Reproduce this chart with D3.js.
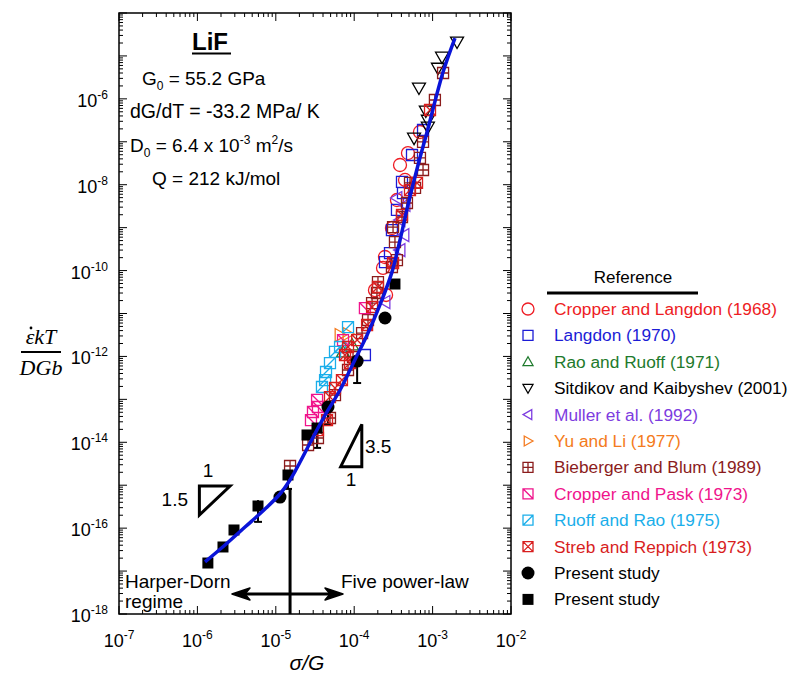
<!DOCTYPE html>
<html>
<head>
<meta charset="utf-8">
<script src="https://cdn.jsdelivr.net/npm/d3@7"></script>
<style>
  body { margin: 0; background: #fff; }
  text { font-family: "Liberation Sans", Arial, sans-serif; }
</style>
</head>
<body>
<svg id="chart" width="791" height="679"></svg>
<script>
// ---- data: [sigma/G, strain-rate term] ----
const fitCurve = [
  [1.25e-6, 1.63e-17], [2.25e-6, 4.05e-17], [4.05e-6, 1.06e-16], [7.28e-6, 2.79e-16],
  [1.13e-5, 6.24e-16], [1.52e-5, 1.32e-15], [2.04e-5, 3.48e-15], [2.73e-5, 9.6e-15],
  [4.25e-5, 4.3e-14], [6.6e-5, 1.65e-13], [1.02e-4, 8.3e-13], [1.46e-4, 3.15e-12],
  [2.13e-4, 1.58e-11], [3.03e-4, 9.2e-11], [3.84e-4, 5.15e-10], [4.85e-4, 3.37e-9],
  [6.52e-4, 2.88e-8], [8.5e-4, 1.69e-7], [1.36e-3, 4.2e-6], [1.93e-3, 2.6e-5]
];

const cropperLangdon = [
  [6.9e-4, 1.69e-7], [4.85e-4, 5.47e-8], [4.45e-4, 1.29e-8], [3.84e-4, 2.88e-8],
  [3.51e-4, 4.4e-9], [3.03e-4, 9.8e-10], [2.47e-4, 2.07e-10], [2.33e-4, 1.15e-10],
  [2.55e-4, 2.7e-11], [1.84e-4, 3.5e-11]
];
const langdon = [
  [7.55e-4, 1.88e-7], [5.46e-4, 4.92e-8], [4.07e-4, 1.16e-8], [4.19e-4, 6.4e-9],
  [3.51e-4, 2.58e-9], [3.03e-4, 8.8e-10], [2.86e-4, 2.56e-10], [2.47e-4, 1.58e-10],
  [1.37e-4, 1.08e-12]
];
const raoRuoff = [[7.2e-5, 1.27e-12], [9.4e-5, 1.85e-12]];
const sitdikov = [
  [2.05e-3, 2.11e-5], [1.32e-3, 9.4e-6], [1.17e-3, 5.2e-6], [6.7e-4, 1.79e-6],
  [8.2e-4, 5.2e-7], [8.7e-4, 3.2e-7], [8.7e-4, 2.2e-7], [5.8e-4, 1.22e-7]
];
const muller = [
  [3.51e-4, 4.9e-9], [4.45e-4, 3.37e-9], [3.84e-4, 1.5e-9], [4.31e-4, 6.7e-10],
  [3.84e-4, 3.0e-10], [2.47e-4, 1.85e-11]
];
const yuLi = [[6.6e-5, 3.15e-12], [8.34e-5, 3.33e-12]];
const bieberger = [
  [1.36e-3, 4.0e-6], [1.07e-3, 9.4e-7], [7.55e-4, 9.9e-8], [6.9e-4, 4.2e-8],
  [7.55e-4, 2.2e-8], [5.97e-4, 8.4e-9], [5.15e-4, 1.1e-8], [4.71e-4, 3.75e-9],
  [4.07e-4, 1.77e-9], [3.13e-4, 1.03e-9], [3.31e-4, 4.6e-10], [3.51e-4, 1.76e-10],
  [3.03e-4, 1.21e-10], [2.01e-4, 5.4e-11], [1.95e-4, 3.0e-11], [1.69e-4, 1.75e-11],
  [1.5e-4, 7.05e-12], [1.26e-4, 3.5e-12], [9.66e-5, 9.7e-13], [8.34e-5, 4.83e-13],
  [5.69e-5, 1.26e-13], [4.91e-5, 3.68e-14], [3.45e-5, 1.26e-14], [2.58e-5, 8.65e-15],
  [1.52e-5, 2.8e-15]
];
const cropperPask = [
  [1.37e-4, 1.34e-11], [7.2e-5, 2.41e-12], [3.36e-5, 9.7e-14], [3.45e-5, 6.64e-14],
  [2.98e-5, 5.07e-14], [2.81e-5, 3.3e-14]
];
const ruoffRao = [
  [8.34e-5, 4.84e-12], [6.6e-5, 1.66e-12], [5.69e-5, 1.27e-12], [4.91e-5, 7.0e-13],
  [4.37e-5, 4.34e-13], [4.25e-5, 2.82e-13], [3.88e-5, 1.94e-13]
];
const strebReppich = [
  [9.27e-4, 5.5e-7], [6.33e-4, 1.1e-8], [5.15e-4, 7.5e-9], [4.07e-4, 1.97e-9],
  [3.13e-4, 1.5e-10], [2.01e-4, 4.14e-11], [1.69e-4, 1.42e-11], [1.46e-4, 5.4e-12],
  [1.09e-4, 2.41e-12], [8.34e-5, 1.66e-12], [7.63e-5, 1.08e-12], [8.83e-5, 7.0e-13],
  [6.98e-5, 2.82e-13], [5.69e-5, 1.84e-13], [4.91e-5, 1.13e-13], [4.5e-5, 3.3e-14],
  [3.45e-5, 1.93e-14]
];
const presentCircles = [[1.13e-5, 5.3e-16], [4.63e-5, 6.64e-14], [1.09e-4, 7.8e-13], [2.47e-4, 7.85e-12]];
const presentSquares = [
  [1.36e-6, 1.54e-17], [2.12e-6, 3.64e-17], [2.93e-6, 9.06e-17], [5.93e-6, 3.28e-16],
  [1.43e-5, 1.73e-15], [2.5e-5, 1.48e-14], [3.36e-5, 2.15e-14], [3.31e-4, 4.86e-11]
];
// error bars: [x, low, high]
const errorBars = [
  [5.93e-6, 1.4e-16, 4.5e-16], [1.43e-5, 8.2e-16, 1.73e-15], [3.36e-5, 7.4e-15, 2.15e-14],
  [4.63e-5, 2.53e-14, 6.64e-14], [1.09e-4, 2.4e-13, 7.8e-13]
];

// annotation geometry (data coordinates)
const slopeLow = [[1.06e-6, 9.6e-16], [2.61e-6, 9.6e-16], [1.06e-6, 2.02e-16]];
const slopeHigh = [[1.25e-4, 2.62e-14], [1.25e-4, 2.7e-15], [6.73e-5, 2.7e-15]];
const boundaryX = 1.52e-5, boundaryTop = 8.2e-16;
const arrowY = 2.92e-18, arrowFrom = 2.76e-6, arrowTo = 7.2e-5;

const xTickExps = [-7, -6, -5, -4, -3, -2];
const yLabelExps = [-6, -8, -10, -12, -14, -16, -18];

const series = [
  { name: "Cropper and Langdon (1968)", color: "#ee1c24", shape: "circle", data: cropperLangdon },
  { name: "Langdon (1970)", color: "#1c1cd6", shape: "square", data: langdon },
  { name: "Rao and Ruoff (1971)", color: "#1e7a2c", shape: "triUp", data: raoRuoff },
  { name: "Sitdikov and Kaibyshev (2001)", color: "#000000", shape: "triDown", data: sitdikov },
  { name: "Muller et al. (1992)", color: "#7d3ce0", shape: "triLeft", data: muller },
  { name: "Yu and Li (1977)", color: "#f47b20", shape: "triRight", data: yuLi },
  { name: "Bieberger and Blum (1989)", color: "#8b1c1c", shape: "boxPlus", data: bieberger },
  { name: "Cropper and Pask (1973)", color: "#f0148c", shape: "boxDiagDown", data: cropperPask },
  { name: "Ruoff and Rao (1975)", color: "#1aaeea", shape: "boxDiagUp", data: ruoffRao },
  { name: "Streb and Reppich (1973)", color: "#d81e1e", shape: "boxX", data: strebReppich },
  { name: "Present study", color: "#000000", shape: "dot", data: presentCircles },
  { name: "Present study", color: "#000000", shape: "block", data: presentSquares }
];

// ---- drawing ----
const svg = d3.select("#chart");
const plotL = 119, plotR = 511, plotT = 13, plotB = 614;

const x = d3.scaleLog().domain([1e-7, 1e-2]).range([plotL, plotR]);
const y = d3.scaleLog().domain([1e-18, 1e-4]).range([plotB, plotT]);

function shapePath(shape, s) {
  const box = `M${-s},${-s}H${s}V${s}H${-s}Z`;
  const t = s * 0.75;
  switch (shape) {
    case "circle":
    case "dot":
      return `M${-s},0a${s},${s} 0 1,0 ${2 * s},0a${s},${s} 0 1,0 ${-2 * s},0Z`;
    case "square":
    case "block": return box;
    case "triUp": return `M0,${-s}L${s},${t}L${-s},${t}Z`;
    case "triDown": return `M0,${s}L${s},${-t}L${-s},${-t}Z`;
    case "triLeft": return `M${-s},0L${t},${-s}L${t},${s}Z`;
    case "triRight": return `M${s},0L${-t},${-s}L${-t},${s}Z`;
    case "boxPlus": return box + `M0,${-s}V${s}M${-s},0H${s}`;
    case "boxDiagDown": return box + `M${-s},${-s}L${s},${s}`;
    case "boxDiagUp": return box + `M${-s},${s}L${s},${-s}`;
    case "boxX": return box + `M${-s},${-s}L${s},${s}M${-s},${s}L${s},${-s}`;
  }
}
const markerSize = shape => ({
  circle: 6.5, dot: 6.5, square: 5.5, block: 5.5
}[shape] || (shape.startsWith("tri") ? 6.5 : 5.5));
const filled = shape => shape === "dot" || shape === "block";

// ticks (inward, all four sides)
const g = svg.append("g");
const xTicks = [], yTicks = [];
for (let e = -7; e < -2; e++) for (let k = 1; k <= 9; k++) xTicks.push({ v: k * Math.pow(10, e), major: k === 1 });
xTicks.push({ v: 1e-2, major: true });
for (let e = -18; e < -4; e++) for (let k = 1; k <= 9; k++) yTicks.push({ v: k * Math.pow(10, e), major: k === 1 });
yTicks.push({ v: 1e-4, major: true });

g.selectAll(".xtick-b").data(xTicks).join("line")
  .attr("x1", d => x(d.v)).attr("x2", d => x(d.v))
  .attr("y1", plotB).attr("y2", d => plotB - (d.major ? 8 : 4))
  .attr("stroke", "#000").attr("stroke-width", 1);
g.selectAll(".xtick-t").data(xTicks).join("line")
  .attr("x1", d => x(d.v)).attr("x2", d => x(d.v))
  .attr("y1", plotT).attr("y2", d => plotT + (d.major ? 8 : 4))
  .attr("stroke", "#000").attr("stroke-width", 1);
g.selectAll(".ytick-l").data(yTicks).join("line")
  .attr("y1", d => y(d.v)).attr("y2", d => y(d.v))
  .attr("x1", plotL).attr("x2", d => plotL + (d.major ? 8 : 4))
  .attr("stroke", "#000").attr("stroke-width", 1);
g.selectAll(".ytick-r").data(yTicks).join("line")
  .attr("y1", d => y(d.v)).attr("y2", d => y(d.v))
  .attr("x1", plotR).attr("x2", d => plotR - (d.major ? 8 : 4))
  .attr("stroke", "#000").attr("stroke-width", 1);

svg.append("rect")
  .attr("x", plotL).attr("y", plotT)
  .attr("width", plotR - plotL).attr("height", plotB - plotT)
  .attr("fill", "none").attr("stroke", "#000").attr("stroke-width", 1.5);

// tick labels
const xl = svg.selectAll(".xlab").data(xTickExps).join("text")
  .attr("x", d => x(Math.pow(10, d))).attr("y", 647)
  .attr("text-anchor", "middle").attr("font-size", 18);
xl.append("tspan").text("10");
xl.append("tspan").attr("dy", -8).attr("font-size", 12).text(d => String(d));

const yl = svg.selectAll(".ylab").data(yLabelExps).join("text")
  .attr("x", 108).attr("y", d => y(Math.pow(10, d)) + 8)
  .attr("text-anchor", "end").attr("font-size", 18);
yl.append("tspan").text("10");
yl.append("tspan").attr("dy", -8).attr("font-size", 12).text(d => String(d));

// axis titles
svg.append("text").attr("x", 307).attr("y", 670).attr("text-anchor", "middle")
  .attr("font-size", 21).attr("font-style", "italic").text("σ/G");
const yt = svg.append("g").attr("font-style", "italic").attr("font-size", 22);
yt.append("text").attr("x", 41).attr("y", 344).attr("text-anchor", "middle")
  .style("font-family", "'Liberation Serif', serif").text("εkT");
yt.append("circle").attr("cx", 31).attr("cy", 328).attr("r", 1.4).attr("fill", "#000");
yt.append("line").attr("x1", 21).attr("x2", 61).attr("y1", 352).attr("y2", 352)
  .attr("stroke", "#000").attr("stroke-width", 2);
yt.append("text").attr("x", 41).attr("y", 375).attr("text-anchor", "middle")
  .style("font-family", "'Liberation Serif', serif").text("DGb");

// error bars
const eb = svg.append("g").attr("stroke", "#000").attr("stroke-width", 2);
eb.selectAll(".eb").data(errorBars).join("line")
  .attr("x1", d => x(d[0])).attr("x2", d => x(d[0]))
  .attr("y1", d => y(d[1])).attr("y2", d => y(d[2]));
eb.selectAll(".cap").data(errorBars).join("line")
  .attr("x1", d => x(d[0]) - 4).attr("x2", d => x(d[0]) + 4)
  .attr("y1", d => y(d[1])).attr("y2", d => y(d[1]));

// markers
series.forEach(s => {
  const sz = markerSize(s.shape);
  svg.append("g").selectAll("path").data(s.data).join("path")
    .attr("transform", d => `translate(${x(d[0])},${y(d[1])})`)
    .attr("d", shapePath(s.shape, sz))
    .attr("fill", filled(s.shape) ? s.color : "none")
    .attr("stroke", filled(s.shape) ? "none" : s.color)
    .attr("stroke-width", 1.3);
});

// fitted curve
svg.append("path").datum(fitCurve)
  .attr("d", d3.line().x(d => x(d[0])).y(d => y(d[1])).curve(d3.curveCatmullRom))
  .attr("fill", "none").attr("stroke", "#0a14d8").attr("stroke-width", 3.5);

// slope triangles
[slopeLow, slopeHigh].forEach(tri => {
  svg.append("path")
    .attr("d", "M" + tri.map(p => `${x(p[0])},${y(p[1])}`).join("L") + "Z")
    .attr("fill", "none").attr("stroke", "#000").attr("stroke-width", 3)
    .attr("stroke-linejoin", "miter");
});
svg.append("text").attr("x", 208).attr("y", 477).attr("text-anchor", "middle").attr("font-size", 19).text("1");
svg.append("text").attr("x", 188).attr("y", 506).attr("text-anchor", "end").attr("font-size", 19).text("1.5");
svg.append("text").attr("x", 365).attr("y", 453).attr("font-size", 19).text("3.5");
svg.append("text").attr("x", 351).attr("y", 486).attr("text-anchor", "middle").attr("font-size", 19).text("1");

// regime boundary and arrows
svg.append("line")
  .attr("x1", x(boundaryX)).attr("x2", x(boundaryX))
  .attr("y1", y(boundaryTop)).attr("y2", plotB)
  .attr("stroke", "#000").attr("stroke-width", 3);
const ay = y(arrowY);
svg.append("line")
  .attr("x1", x(arrowFrom) + 8).attr("x2", x(arrowTo) - 8)
  .attr("y1", ay).attr("y2", ay)
  .attr("stroke", "#000").attr("stroke-width", 3);
[[x(arrowFrom), 1], [x(arrowTo), -1]].forEach(([tx, dir]) => {
  svg.append("path")
    .attr("d", `M${tx},${ay}L${tx + dir * 18},${ay - 6}L${tx + dir * 13},${ay}L${tx + dir * 18},${ay + 6}Z`)
    .attr("fill", "#000").attr("stroke", "#000").attr("stroke-width", 1.5).attr("stroke-linejoin", "round");
});
svg.append("text").attr("x", 125).attr("y", 588).attr("font-size", 19).text("Harper-Dorn");
svg.append("text").attr("x", 125).attr("y", 608).attr("font-size", 19).text("regime");
svg.append("text").attr("x", 341).attr("y", 588).attr("font-size", 19).text("Five power-law");

// material parameters
svg.append("text").attr("x", 192).attr("y", 50).attr("font-size", 24)
  .attr("font-weight", "bold").text("LiF");
svg.append("line").attr("x1", 192).attr("x2", 231).attr("y1", 53.5).attr("y2", 53.5)
  .attr("stroke", "#000").attr("stroke-width", 2);

const p1 = svg.append("text").attr("x", 142).attr("y", 85).attr("font-size", 19);
p1.append("tspan").text("G");
p1.append("tspan").attr("dy", 5).attr("font-size", 12).text("0");
p1.append("tspan").attr("dy", -5).text(" = 55.2 GPa");

svg.append("text").attr("x", 130).attr("y", 118).attr("font-size", 19.5).text("dG/dT = -33.2 MPa/ K");

const p3 = svg.append("text").attr("x", 130).attr("y", 152).attr("font-size", 19);
p3.append("tspan").text("D");
p3.append("tspan").attr("dy", 5).attr("font-size", 12).text("0");
p3.append("tspan").attr("dy", -5).text(" = 6.4 x 10");
p3.append("tspan").attr("dy", -8).attr("font-size", 12).text("-3");
p3.append("tspan").attr("dy", 8).text(" m");
p3.append("tspan").attr("dy", -8).attr("font-size", 12).text("2");
p3.append("tspan").attr("dy", 8).text("/s");

svg.append("text").attr("x", 152).attr("y", 185).attr("font-size", 19).text("Q = 212 kJ/mol");

// legend
const lg = svg.append("g");
lg.append("text").attr("x", 633).attr("y", 283).attr("text-anchor", "middle")
  .attr("font-size", 17).text("Reference");
lg.append("line").attr("x1", 547).attr("x2", 698).attr("y1", 293).attr("y2", 293)
  .attr("stroke", "#000").attr("stroke-width", 3);
const rows = lg.selectAll(".row").data(series).join("g")
  .attr("transform", (d, i) => `translate(0,${309 + i * 26.4})`);
rows.append("path")
  .attr("transform", "translate(528,0)")
  .attr("d", d => shapePath(d.shape, filled(d.shape) ? (d.shape === "dot" ? 6.5 : 5.5) : (d.shape === "circle" ? 6 : 5)))
  .attr("fill", d => filled(d.shape) ? d.color : "none")
  .attr("stroke", d => filled(d.shape) ? "none" : d.color)
  .attr("stroke-width", 1.3);
rows.append("text").attr("x", 554).attr("y", 6).attr("font-size", 17.3)
  .attr("fill", d => d.color).text(d => d.name);
</script>
</body>
</html>
